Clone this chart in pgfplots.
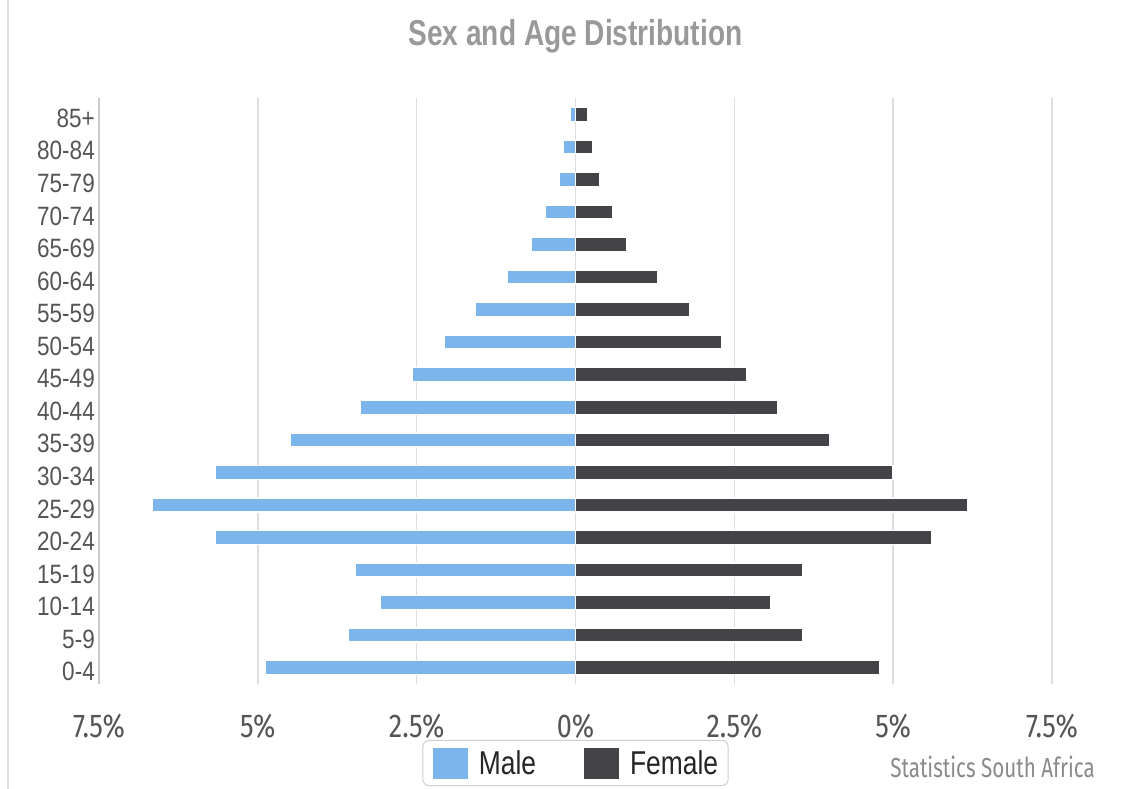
\documentclass[border=0pt]{standalone}
\usepackage{fontspec}
\setmainfont{Liberation Sans}
\usepackage{pgfplots}
\pgfplotsset{compat=1.18}

\newfontfamily\ylabf[FakeStretch=0.85]{Liberation Sans}
\newfontfamily\titlef[FakeStretch=0.78]{Liberation Sans}
\newfontfamily\legf[FakeStretch=0.8]{Liberation Sans}
\newfontfamily\xtickf[FakeStretch=0.82]{Fira Sans}
\newfontfamily\credf[FakeStretch=0.75]{Fira Sans}

\definecolor{male}{HTML}{7CB5EC}
\definecolor{female}{HTML}{434348}
\definecolor{gridc}{HTML}{DDDDDD}
\definecolor{leftc}{HTML}{CCCCCC}
\definecolor{tickc}{HTML}{555555}
\definecolor{titlec}{HTML}{999999}
\definecolor{credc}{HTML}{8A8A8A}
\definecolor{legc}{HTML}{CFCFCF}

\begin{document}
\begin{tikzpicture}
\begin{axis}[
    at={(0,0)}, anchor=south west,
    scale only axis,
    width=953pt, height=586pt,
    xmin=-7.5, xmax=7.5,
    ymin=-0.5, ymax=17.5,
    xbar, bar width=14pt,
    clip=false,
    xtick={-7.5,-5,-2.5,0,2.5,5,7.5},
    xticklabels={7.5\%,5\%,2.5\%,0\%,2.5\%,5\%,7.5\%},
    ytick={0,...,17},
    yticklabels={0-4,5-9,10-14,15-19,20-24,25-29,30-34,35-39,40-44,45-49,50-54,55-59,60-64,65-69,70-74,75-79,80-84,85+},
    major tick length=0pt,
    axis line style={draw=none},
    xmajorgrids,
    grid style={draw=gridc, line width=1.5pt},
    xticklabel style={anchor=base, inner sep=0pt, yshift=-54pt,
        font=\xtickf\fontsize{33}{36}\selectfont, text=tickc},
    yticklabel style={anchor=east, inner sep=0pt, xshift=-4pt, yshift=-4pt,
        font=\ylabf\fontsize{26.5}{30}\selectfont, text=tickc},
    title={Sex and Age Distribution},
    title style={at={(0.5,1)}, anchor=base, yshift=46pt, inner sep=0pt,
        font=\titlef\bfseries\fontsize{36}{40}\selectfont, text=titlec},
    legend columns=2,
    legend style={at={(0.5,0)}, anchor=north, yshift=-56pt,
        draw=legc, line width=1pt, rounded corners=6pt,
        inner xsep=10pt, inner ysep=7pt,
        font=\legf\fontsize{33}{36}\selectfont, text=black!85,
        nodes={inner xsep=0pt},
        /tikz/every odd column/.style={column sep=11pt},
        /tikz/every even column/.style={column sep=48pt}},
    legend image code/.code={\path[#1, draw=none, sharp corners] (0pt,-15.5pt) rectangle (35pt,15.5pt);},
]
% male shares, drawn to the left
\addplot[fill=male, draw=white, line width=1.5pt, bar shift=0pt] coordinates {
(-4.89,0) (-3.57,1) (-3.07,2) (-3.46,3) (-5.67,4) (-6.66,5) (-5.67,6) (-4.49,7) (-3.39,8)
(-2.57,9) (-2.07,10) (-1.58,11) (-1.08,12) (-0.69,13) (-0.47,14) (-0.26,15) (-0.19,16) (-0.09,17)};
\addlegendentry{Male}
% female shares, drawn to the right
\addplot[fill=female, draw=white, line width=1.5pt, bar shift=0pt] coordinates {
(4.79,0) (3.58,1) (3.08,2) (3.58,3) (5.61,4) (6.18,5) (5.00,6) (4.00,7) (3.19,8)
(2.70,9) (2.30,10) (1.80,11) (1.30,12) (0.81,13) (0.59,14) (0.38,15) (0.27,16) (0.20,17)};
\addlegendentry{Female}

\draw[leftc, line width=1.5pt] (rel axis cs:0,0) -- (rel axis cs:0,1);
\node[anchor=base east, inner sep=0pt, text=credc,
    font=\credf\fontsize{27.5}{30}\selectfont]
    at ([xshift=43pt, yshift=-93pt]rel axis cs:1,0) {Statistics South Africa};
\end{axis}
\draw[gridc, line width=1.5pt] (-91pt,-105pt) -- (-91pt,684pt);
\pgfresetboundingbox
\path[use as bounding box] (-99pt,-105pt) rectangle (1036pt,684pt);
\end{tikzpicture}
\end{document}
